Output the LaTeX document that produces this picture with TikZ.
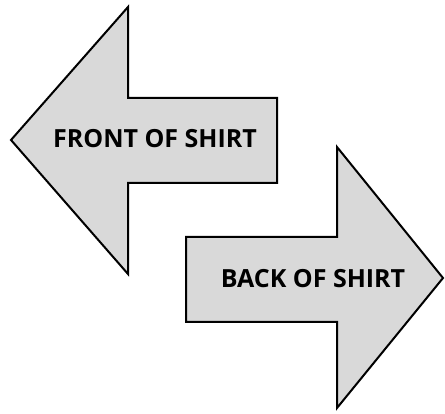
\documentclass[tikz,border=0pt]{standalone}
\usepackage{fontspec}
\setmainfont{Open Sans}
\definecolor{arrowfill}{HTML}{D9D9D9}
\begin{document}
\begin{tikzpicture}[x=1pt,y=-1pt,
  bigarrow/.style={draw=black,line width=2pt,fill=arrowfill,line join=miter},
  label/.style={font=\fontsize{25}{28}\selectfont\bfseries,inner sep=0pt}]
\useasboundingbox (0,0) rectangle (445,414);
\draw[bigarrow] (11,140) -- (128,7) -- (128,98) -- (277,98) -- (277,183) -- (128,183) -- (128,274) -- cycle;
\draw[bigarrow] (443,278) -- (337,147) -- (337,237) -- (186,237) -- (186,322) -- (337,322) -- (337,408) -- cycle;
\node[label] (front) at (155,139) {FRONT OF SHIRT};
\node[label] (back) at (313,279) {BACK OF SHIRT};
\end{tikzpicture}
\end{document}
